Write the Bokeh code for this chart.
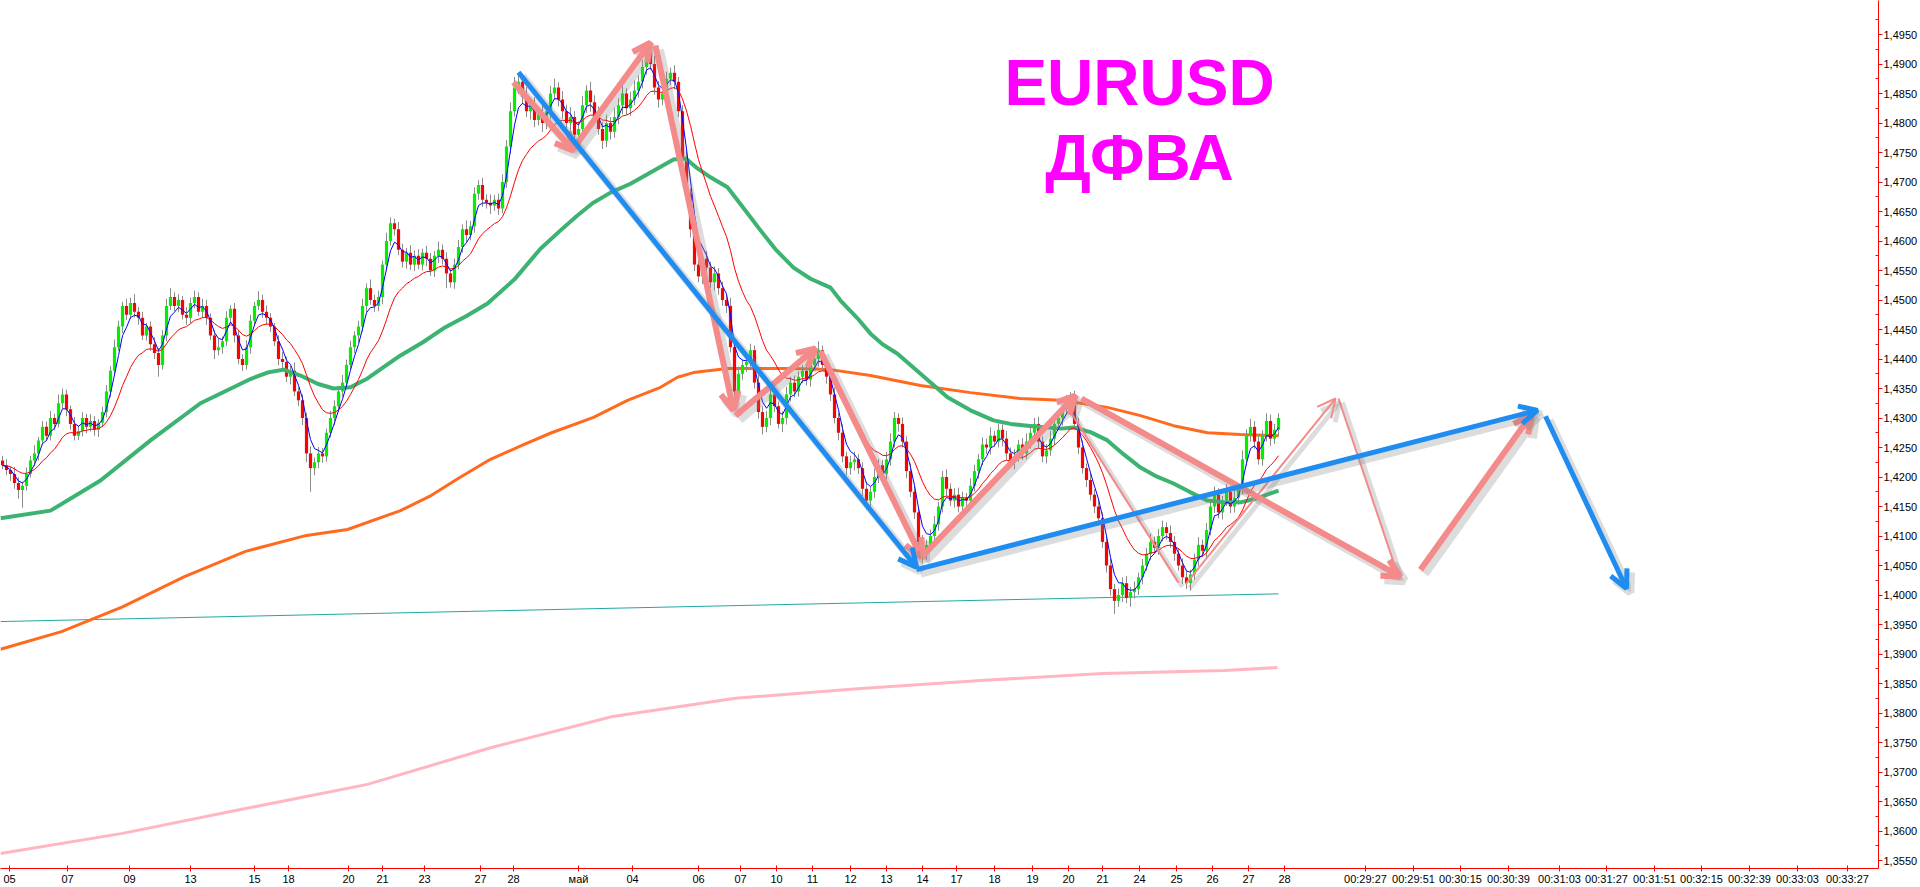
import numpy as np
from bokeh.plotting import figure
from bokeh.models import (Range1d, LinearAxis, FixedTicker, CustomJSTickFormatter,
                          Arrow, OpenHead, ColumnDataSource)
from bokeh.core.properties import value
from bokeh.embed import file_html
from bokeh.resources import INLINE

# ---------------- data (prices in pips: 4220 -> 1.4220) ----------------
first_open = 4228
close_pips = [
    4220,4212,4205,4190,4178,4185,4205,4228,4240,4262,4285,4270,4300,4290,4325,4340,4315,4290,4270,4278,
    4300,4285,4295,4280,4292,4310,4345,4380,4420,4455,4490,4475,4495,4480,4470,4440,4455,4425,4410,4390,
    4440,4490,4505,4490,4500,4475,4470,4495,4505,4480,4490,4470,4440,4415,4420,4430,4470,4485,4440,4400,
    4390,4420,4465,4490,4500,4480,4470,4455,4430,4400,4395,4370,4380,4345,4330,4300,4240,4215,4225,4240,
    4235,4275,4300,4320,4345,4360,4390,4420,4440,4455,4490,4520,4500,4490,4505,4560,4600,4630,4620,4585,
    4565,4580,4560,4575,4560,4580,4570,4550,4575,4585,4570,4545,4530,4560,4590,4620,4610,4625,4680,4695,
    4670,4665,4660,4670,4655,4700,4760,4820,4860,4870,4845,4820,4830,4805,4815,4800,4820,4850,4860,4840,
    4820,4800,4810,4780,4790,4830,4855,4835,4810,4790,4770,4800,4785,4810,4830,4850,4825,4840,4855,4870,
    4895,4920,4900,4860,4840,4850,4875,4885,4870,4820,4740,4680,4620,4560,4540,4570,4555,4530,4545,4520,
    4500,4490,4420,4345,4375,4390,4395,4415,4360,4310,4285,4300,4340,4320,4290,4300,4340,4360,4345,4370,
    4380,4365,4390,4400,4415,4390,4370,4340,4300,4275,4235,4215,4225,4230,4215,4180,4160,4175,4200,4220,
    4205,4230,4260,4300,4290,4260,4210,4175,4140,4090,4070,4085,4100,4120,4150,4200,4180,4160,4170,4150,
    4165,4160,4185,4210,4230,4255,4250,4270,4260,4280,4265,4240,4225,4235,4255,4240,4260,4275,4290,4260,
    4235,4245,4265,4290,4300,4315,4325,4335,4290,4250,4215,4195,4170,4150,4130,4090,4050,4010,3990,4000,
    4020,3995,4005,4010,4030,4050,4070,4090,4080,4100,4115,4105,4090,4070,4050,4030,4020,4035,4060,4085,
    4075,4110,4150,4170,4140,4160,4175,4150,4165,4180,4230,4270,4285,4260,4230,4270,4295,4265,4280,4300,
]
wick_up = [
    8,10,6,12,9,7,11,8,14,6,10,9,12,7,15,10,8,6,12,9,
    10,7,12,8,6,9,11,8,13,10,7,12,9,15,8,10,6,9,12,8,
    9,12,15,8,10,7,13,9,11,8,12,10,7,9,14,8,11,6,10,9,
    8,12,10,7,15,9,11,8,6,10,12,9,8,14,7,10,9,12,8,11,
    9,7,12,10,8,13,9,11,7,10,12,8,15,9,11,7,14,10,8,12,
    10,8,13,9,11,7,12,10,8,14,9,11,7,10,12,8,15,9,11,8,
    12,9,14,8,10,13,11,15,18,12,10,16,9,14,11,17,10,13,15,9,
    14,11,17,10,13,16,9,15,12,18,11,14,10,16,12,15,9,13,17,11,
    12,15,10,14,11,16,12,9,13,8,10,12,9,14,11,8,13,10,12,9,
    11,8,14,10,12,9,15,11,8,13,10,12,9,14,8,11,13,10,12,9,
    10,13,9,12,15,8,11,10,12,9,14,8,11,13,9,10,12,8,14,10,
    9,12,14,10,8,11,9,13,10,8,12,9,11,14,8,10,13,9,11,12,
    10,8,13,11,9,12,10,14,8,11,9,13,10,12,8,11,14,9,10,12,
    9,11,13,10,12,8,14,9,11,10,12,8,13,9,11,10,8,12,9,11,
    10,12,9,13,8,11,10,14,9,12,11,8,13,10,9,12,11,8,10,13,
    9,12,10,14,11,8,13,10,12,9,15,11,14,10,12,9,13,11,10,8,
]
wick_dn = [
    7,9,12,10,15,30,8,6,10,12,7,9,8,11,6,9,12,10,8,7,
    9,11,8,10,12,7,9,10,8,6,11,9,7,10,12,8,9,11,10,20,
    8,10,7,9,11,8,12,10,9,7,10,12,8,15,9,11,8,10,12,9,
    10,8,11,9,7,10,12,9,8,11,10,9,13,8,10,12,15,40,12,10,
    11,9,8,12,10,9,11,8,10,12,9,11,8,10,9,12,10,8,11,9,
    10,12,9,11,8,10,13,9,11,12,10,25,9,11,8,10,12,9,11,10,
    12,10,14,9,11,8,10,12,9,11,13,10,14,12,9,15,11,13,10,12,
    13,10,15,12,14,11,13,16,12,10,14,11,13,10,12,15,11,13,10,12,
    11,13,10,12,14,10,12,11,13,10,12,9,14,11,10,13,12,10,14,11,
    10,12,9,11,13,10,12,14,10,11,13,9,12,10,8,14,11,12,10,9,
    11,10,12,9,13,10,12,11,9,13,10,12,11,14,10,12,15,9,11,10,
    12,9,11,10,13,10,12,9,11,25,15,10,12,9,11,10,13,9,12,10,
    11,10,12,9,13,10,11,12,9,10,13,11,10,12,9,11,10,12,9,11,
    10,12,9,11,10,13,9,12,10,11,9,12,10,11,13,10,12,11,22,10,
    12,9,15,11,10,12,9,11,10,12,9,11,10,12,9,11,10,13,9,11,
    10,12,9,11,10,12,9,11,10,12,9,11,10,12,9,11,10,12,9,11,
]

# slow moving averages (bar index, pips)
green_ma_x = [-0.5,12,24.5,37,49.5,57.75,62,66.25,70.25,74.5,78.75,82.75,87,91.25,95,99.5,105,110.25,
              116,121.25,128,134.5,139.5,143.5,147.5,152,157,162,167.75,170.75,173.75,177,181.25,185,
              189.5,193.5,197.75,202,207,209.5,213.75,217,220,223.75,229.5,236.25,242,247.75,252,256.25,
              264.5,267.75,272,276.25,280,284.5,288.5,292.75,297,301.25,305.5,309.5,313.75,319]
green_ma = [4130,4143,4194,4262,4325,4352,4366,4377,4382,4372,4358,4350,4352,4367,4385,4406,4428,4452,
            4473,4494,4535,4587,4618,4642,4664,4682,4697,4716,4738,4740,4723,4708,4691,4658,
            4618,4584,4555,4536,4521,4499,4469,4443,4425,4409,4375,4335,4313,4296,4290,4287,
            4282,4284,4276,4262,4240,4216,4201,4189,4174,4160,4157,4157,4164,4177]
orange_ma_x = [-0.5,14.75,30,45.5,60.75,76,86.25,99.5,106.75,114,122,130,137.25,147.75,156.25,164.5,168.75,
               172.75,181.25,197.75,207,217,229.5,242,254.5,264.5,276.25,284.5,292.75,301.25,309.5,319]
orange_ma = [3908,3938,3980,4031,4074,4101,4111,4143,4167,4198,4230,4254,4275,4301,4330,4352,4369,
             4377,4384,4384,4382,4372,4355,4343,4333,4330,4318,4304,4287,4275,4272,4270]
pink_ma_x = [-0.5,30,60.75,91.25,122,152.5,183.25,213.75,244.5,275,305.5,318.75]
pink_ma = [3562,3596,3638,3679,3741,3794,3825,3841,3855,3867,3872,3877]
teal_x = [-0.5,319]
teal_y = [3955,4002]

# drawn arrows (bar index, pips)
pink_thick = dict(x0=[127.75,142.75,163.25,183.25,204.5,229.75,269.75,354.5],
                  y0=[4869,4757,4931,4304,4413,4064,4333,4043],
                  x1=[142.75,162,182.75,203.25,229.75,268.25,349.5,382.25],
                  y1=[4753,4936,4313,4418,4064,4338,4031,4306])
pink_thin_head = dict(x0=[295.75], y0=[4018], x1=[333.25], y1=[4333])
pink_thin_plain = dict(x0=[266.75,334], y0=[4313,4333], x1=[294,348.5], y1=[4021,4041])
blue_arrows = dict(x0=[129,228.5,385.75], y0=[4886,4043,4303],
                   x1=[228.5,383.75,406], y1=[4047,4313,4011])

title_lines = ["EURUSD", "ДФВА"]
title_x = [284.25, 284.25]
title_y = [4868, 4741]

date_ticks = [1.75,16.25,31.75,47,63,71.5,86.5,95,105.5,119.5,127.75,144,157.5,174,184.5,193.5,202.5,
              212,221,230,238.5,248,257.5,266.5,275,284.25,293.5,302.5,311.5,320.5,
              340.75,352.75,364.5,376.5,389.25,401,413,424.75,436.75,448.75,461.25]
date_labels = ["05","07","09","13","15","18","20","21","23","27","28","май","04","06","07","10","11",
               "12","13","14","17","18","19","20","21","24","25","26","27","28",
               "00:29:27","00:29:51","00:30:15","00:30:39","00:31:03","00:31:27","00:31:51",
               "00:32:15","00:32:39","00:33:03","00:33:27"]

# ---------------- build ----------------
def px(v):
    return 1 + np.asarray(v, dtype=float) / 1e4

def ema(vals, n):
    a = 2.0 / (n + 1)
    out, e = [], vals[0]
    for v in vals:
        e = e + a * (v - e)
        out.append(e)
    return out

closes = px(close_pips)
opens = np.concatenate([[px(first_open)], closes[:-1]])
highs = np.maximum(opens, closes) + np.asarray(wick_up) / 1e4
lows = np.minimum(opens, closes) - np.asarray(wick_dn) / 1e4
idx = np.arange(len(closes))
colors = np.where(closes >= opens, "#00f000", "#ff0000")

W, H = 1920, 887
RB, BB = 42, 19
FW, FH = W - RB, H - BB
SCALE = 5900.0          # pixels per 1.0 of price
TOP = 34.0              # pixel row of 1,4950
PPX = 1.0 / SCALE
p = figure(width=W, height=H, output_backend="svg", toolbar_location=None,
           x_range=Range1d(-0.5, -0.5 + FW / 4.0),
           y_range=Range1d(1.4950 - (FH - TOP) * PPX, 1.4950 + TOP * PPX),
           x_axis_location=None, y_axis_location=None,
           min_border_left=0, min_border_top=0, min_border_right=RB, min_border_bottom=BB)
p.outline_line_color = None
p.xgrid.visible = False
p.ygrid.visible = False
p.background_fill_color = "white"
p.border_fill_color = "white"

yax = LinearAxis(ticker=FixedTicker(ticks=[round(1.355 + 0.005 * k, 4) for k in range(29)],
                                    minor_ticks=[round(1.3525 + 0.005 * k, 4) for k in range(30)]),
                 formatter=CustomJSTickFormatter(code="return tick.toFixed(4).replace('.', ',');"))
yax.axis_line_color = "#ff0000"
yax.major_tick_line_color = "#ff0000"
yax.minor_tick_line_color = "#ff0000"
yax.major_tick_in = 0
yax.major_tick_out = 4
yax.minor_tick_in = 3
yax.minor_tick_out = 0
yax.major_label_standoff = 1
yax.major_label_text_font = "Liberation Sans"
yax.major_label_text_font_size = "11px"
yax.major_label_text_color = "black"
p.add_layout(yax, "right")

xax = LinearAxis(ticker=FixedTicker(ticks=date_ticks, minor_ticks=[]),
                 formatter=CustomJSTickFormatter(args=dict(tk=date_ticks, lb=date_labels), code="""
                    for (let i = 0; i < tk.length; i++) { if (Math.abs(tk[i] - tick) < 1e-6) return lb[i]; }
                    return "";"""))
xax.axis_line_color = "#ff0000"
xax.major_tick_line_color = "#ff0000"
xax.major_tick_in = 3
xax.major_tick_out = 3
xax.major_label_standoff = 1
xax.major_label_text_font = "Liberation Sans"
xax.major_label_text_font_size = "11px"
xax.major_label_text_color = "black"
p.add_layout(xax, "below")

# slow lines
p.line(pink_ma_x, px(pink_ma), line_color="#ffb6c1", line_width=3)
p.line(teal_x, px(teal_y), line_color="#20a8a0", line_width=1)
p.line(orange_ma_x, px(orange_ma), line_color="#ff6a1f", line_width=3, line_join="round")

# candles
p.segment(x0=idx, y0=lows, x1=idx, y1=highs, line_color="#8c8c8c", line_width=1)
p.vbar(x=idx, width=0.8, bottom=np.minimum(opens, closes), top=np.maximum(opens, closes),
       fill_color=colors, line_color=None)

p.line(green_ma_x, px(green_ma), line_color="#3cb371", line_width=4, line_join="round")
p.line(idx, ema(list(closes), 15), line_color="#ff0000", line_width=1)
p.line(idx, ema(list(closes), 4), line_color="#0000ff", line_width=1)

# arrows with shadows
def add_arrows(d, color, width, head):
    sx = [v + 1.0 for v in d["x0"]]
    sx1 = [v + 1.0 for v in d["x1"]]
    shadow = ColumnDataSource(dict(x0=sx, y0=list(px(d["y0"]) - 4 * PPX),
                                   x1=sx1, y1=list(px(d["y1"]) - 4 * PPX)))
    main = ColumnDataSource(dict(x0=d["x0"], y0=list(px(d["y0"])), x1=d["x1"], y1=list(px(d["y1"]))))
    for src, col, alpha, w in ((shadow, "#808080", 0.28, width + 3), (main, color, 1.0, width)):
        end = OpenHead(size=18, line_color=col, line_width=w, line_alpha=alpha) if head else None
        p.add_layout(Arrow(x_start="x0", y_start="y0", x_end="x1", y_end="y1", source=src,
                           line_color=col, line_width=w, line_alpha=alpha, end=end))

add_arrows(pink_thin_plain, "#f58a8a", 2, False)
add_arrows(pink_thin_head, "#f58a8a", 2, True)
add_arrows(pink_thick, "#f58a8a", 6, True)
add_arrows(blue_arrows, "#1e8cf0", 5, True)

# title text
p.text(x=title_x, y=list(px(title_y)), text=title_lines, text_font=value("Liberation Sans"),
       text_font_style="bold", text_font_size="64px", text_color="#ff00ff",
       text_align="center", text_baseline="middle")

open("out.html", "w").write(file_html(p, INLINE))
